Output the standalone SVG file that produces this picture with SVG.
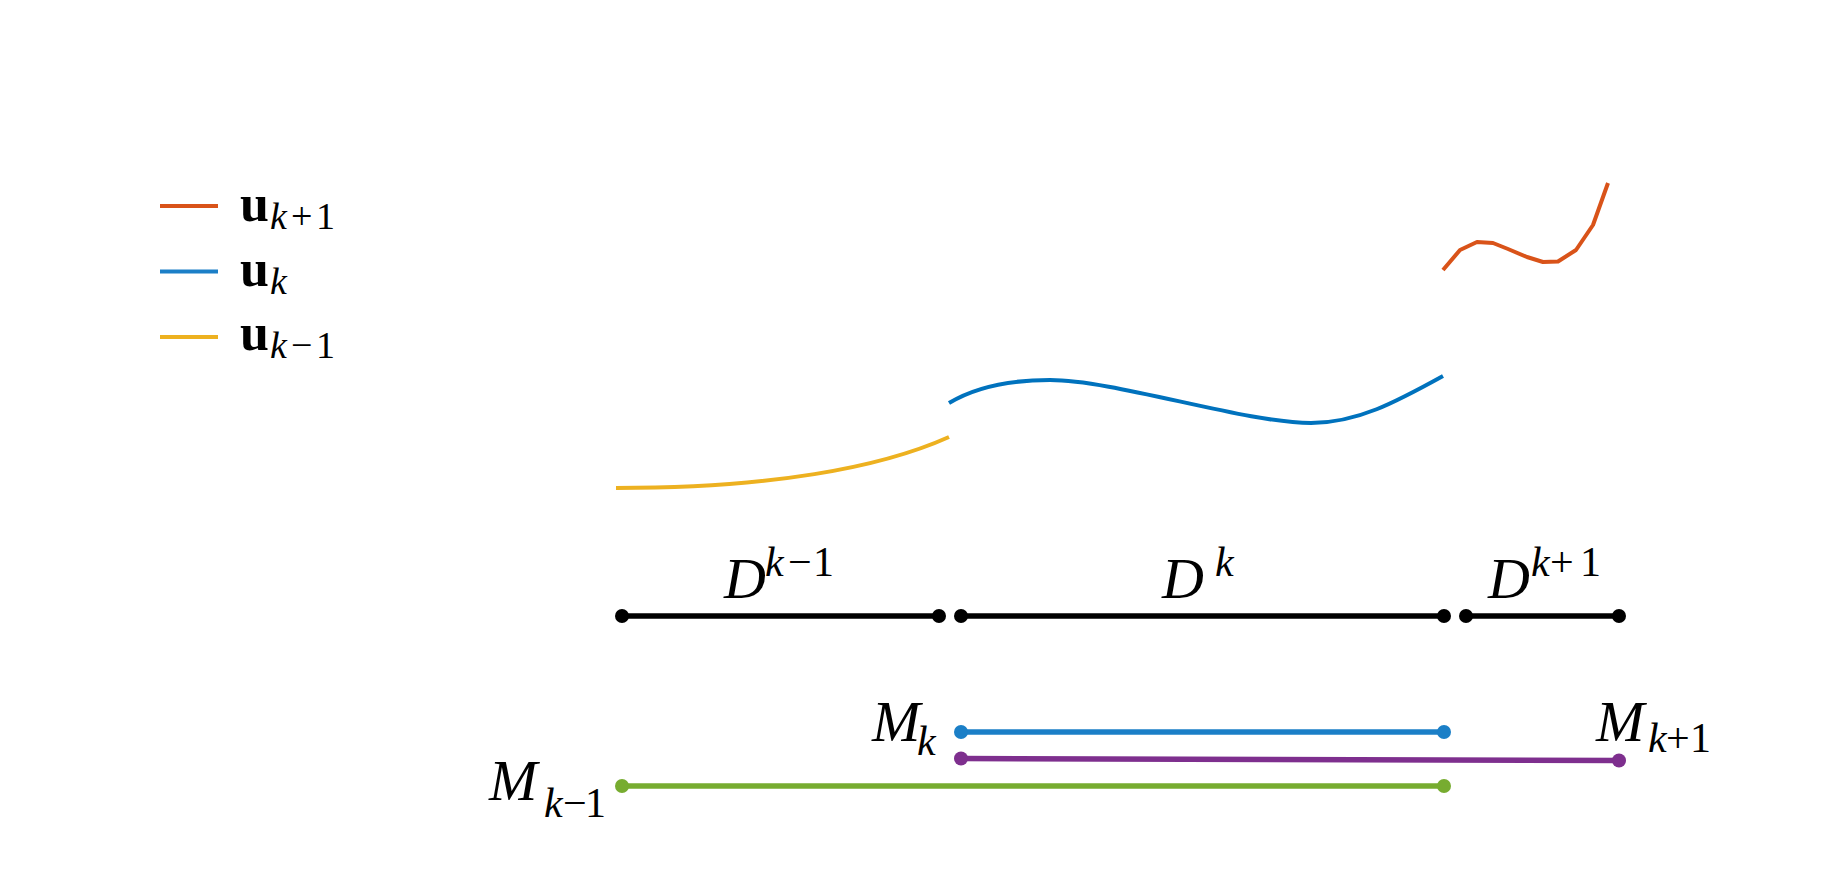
<svg xmlns="http://www.w3.org/2000/svg" width="1833" height="870" viewBox="0 0 1833 870">
<style>
.bg{fill:#ffffff}
.curve{fill:none;stroke-width:4;stroke-linejoin:round;stroke-linecap:butt}
.seg{fill:none;stroke-width:5.5;stroke-linecap:butt}
.it{font-family:"Liberation Serif",serif;font-style:italic;fill:#000}
.up{font-family:"Liberation Serif",serif;fill:#000}
.bu{font-family:"Liberation Serif",serif;font-weight:bold;fill:#000;font-size:52px}
.big{font-size:58px}
.sm{font-size:42px}
.leg{font-size:38px}
.or{stroke:#D95319}
.bl{stroke:#0072BD}
.bl2{stroke:#1B7FC7}
.ye{stroke:#EDB120}
.gr{stroke:#77AC30}
.pu{stroke:#7E2F8E}
.bk{stroke:#000}
</style>
<rect class="bg" x="0" y="0" width="1833" height="870"/>

<g id="legend">
  <g id="legend-uk1">
    <line class="curve or" x1="160" y1="206" x2="218" y2="206"/>
    <text class="bu" x="240" y="221">u</text>
    <text class="it leg" x="270" y="229">k</text>
    <text class="up leg" x="291" y="229">+</text>
    <text class="up leg" x="316" y="229">1</text>
  </g>
  <g id="legend-uk">
    <line class="curve bl2" x1="160" y1="271.5" x2="218" y2="271.5"/>
    <text class="bu" x="240" y="285.5">u</text>
    <text class="it leg" x="270" y="293.5">k</text>
  </g>
  <g id="legend-ukm1">
    <line class="curve ye" x1="160" y1="337" x2="218" y2="337"/>
    <text class="bu" x="240" y="350">u</text>
    <text class="it leg" x="270" y="358">k</text>
    <text class="up leg" x="291" y="358">−</text>
    <text class="up leg" x="316" y="358">1</text>
  </g>
</g>

<g id="curves">
  <path id="u-km1" class="curve ye" d="M616,488 C770,488 880,468 949,437"/>
  <path id="u-k" class="curve bl" d="M949,403 C977,386 1010,380 1050,380 C1115,380 1245,423 1311,423 C1357,423 1396,402 1443,376"/>
  <polyline id="u-kp1" class="curve or" points="1443,270 1460,250 1477,242 1493,243 1508,249 1527,257 1543,262 1558,261.5 1576,250 1593,225 1608,183"/>
</g>

<g id="connectors">
  <line class="seg bk" x1="622" y1="616" x2="939" y2="616"/>
  <line class="seg bk" x1="961" y1="616" x2="1444" y2="616"/>
  <line class="seg bk" x1="1466" y1="616" x2="1619" y2="616"/>
  <line class="seg bl2" x1="961" y1="732" x2="1444" y2="732"/>
  <line class="seg pu" x1="961" y1="758.5" x2="1619" y2="760.5"/>
  <line class="seg gr" x1="622" y1="786" x2="1444" y2="786"/>
</g>

<g id="D-km1">
  <circle cx="622" cy="616" r="7" fill="#000"/>
  <circle cx="939" cy="616" r="7" fill="#000"/>
  <text class="it big" x="724" y="598">D</text>
  <text class="it sm" x="765" y="576">k</text>
  <text class="up sm" x="788" y="576">−</text>
  <text class="up sm" x="813" y="576">1</text>
</g>
<g id="D-k">
  <circle cx="961" cy="616" r="7" fill="#000"/>
  <circle cx="1444" cy="616" r="7" fill="#000"/>
  <text class="it big" x="1162" y="598">D</text>
  <text class="it sm" x="1215" y="576">k</text>
</g>
<g id="D-kp1">
  <circle cx="1466" cy="616" r="7" fill="#000"/>
  <circle cx="1619" cy="616" r="7" fill="#000"/>
  <text class="it big" x="1488" y="598">D</text>
  <text class="it sm" x="1531" y="576">k</text>
  <text class="up sm" x="1550" y="576">+</text>
  <text class="up sm" x="1580" y="576">1</text>
</g>

<g id="M-k">
  <circle cx="961" cy="732" r="7" fill="#1B7FC7"/>
  <circle cx="1444" cy="732" r="7" fill="#1B7FC7"/>
  <text class="it big" x="872" y="741">M</text>
  <text class="it sm" x="917" y="755">k</text>
</g>
<g id="M-kp1">
  <circle cx="961" cy="758.5" r="7" fill="#7E2F8E"/>
  <circle cx="1619" cy="760.5" r="7" fill="#7E2F8E"/>
  <text class="it big" x="1596" y="741">M</text>
  <text class="it sm" x="1648" y="752">k</text>
  <text class="up sm" x="1666" y="752">+</text>
  <text class="up sm" x="1690" y="752">1</text>
</g>
<g id="M-km1">
  <circle cx="622" cy="786" r="7" fill="#77AC30"/>
  <circle cx="1444" cy="786" r="7" fill="#77AC30"/>
  <text class="it big" x="489" y="800">M</text>
  <text class="it sm" x="544" y="817">k</text>
  <text class="up sm" x="563" y="817">−</text>
  <text class="up sm" x="585" y="817">1</text>
</g>
</svg>
